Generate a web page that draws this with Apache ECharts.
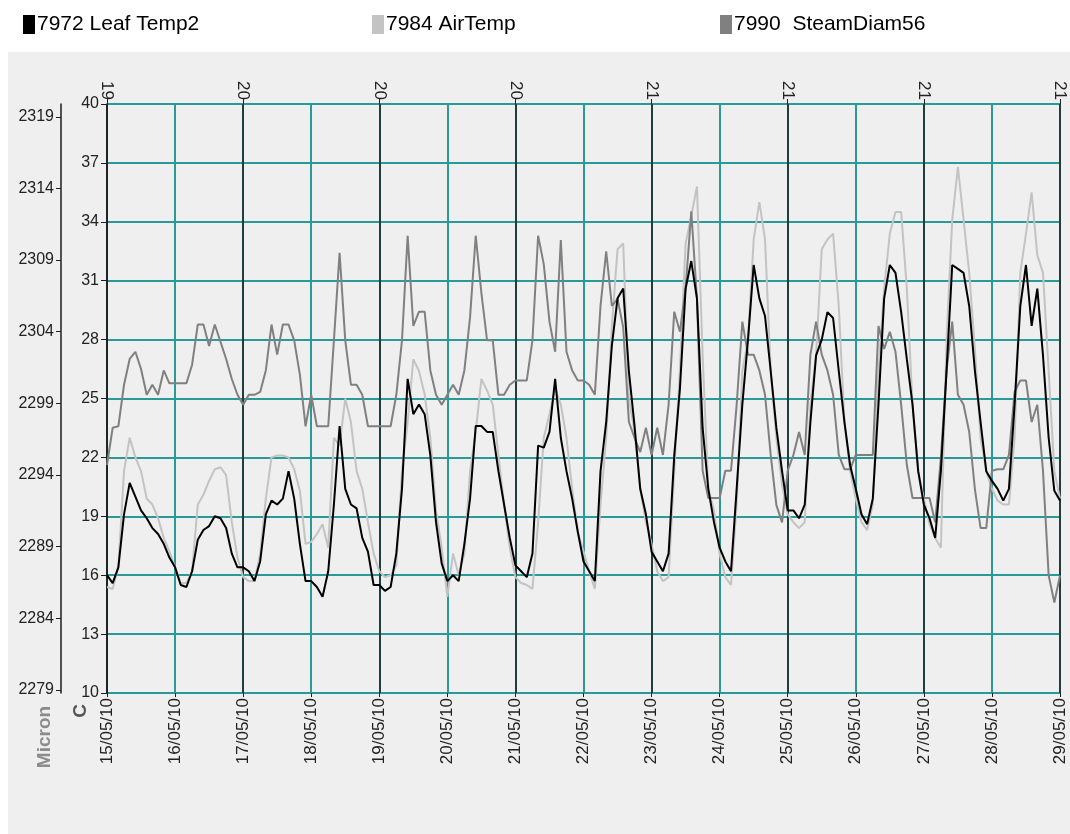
<!DOCTYPE html>
<html><head><meta charset="utf-8">
<script src="https://cdn.jsdelivr.net/npm/echarts@6/dist/echarts.min.js"></script>
<style>html,body{margin:0;padding:0;background:#fff}#c{width:1070px;height:834px}</style>
</head><body><div id="c"></div>
<script>
// ---- data ----
const dateLabels = ['15/05/10','16/05/10','17/05/10','18/05/10','19/05/10','20/05/10','21/05/10','22/05/10','23/05/10','24/05/10','25/05/10','26/05/10','27/05/10','28/05/10','29/05/10'];
const weekLabels = ['19','20','20','20','21','21','21','21'];
const micronTicks = [2279,2284,2289,2294,2299,2304,2309,2314,2319];
const stepHours = 2; // sampling interval of the series below, starting 15/05/10 00:00

const leafTemp = [
16.0,15.6,16.4,19.1,20.7,20.0,19.3,18.9,18.4,18.1,17.6,16.9,
16.4,15.5,15.4,16.2,17.8,18.3,18.5,19.0,18.9,18.4,17.1,16.4,
16.4,16.2,15.7,16.7,19.1,19.8,19.6,19.9,21.3,19.9,17.6,15.7,
15.7,15.4,14.9,16.2,19.6,23.6,20.4,19.6,19.4,17.9,17.2,15.5,
15.5,15.2,15.4,17.1,20.4,26.0,24.2,24.7,24.2,22.1,18.7,16.6,
15.7,16.0,15.7,17.6,19.9,23.6,23.6,23.3,23.3,21.3,19.6,17.9,
16.5,16.2,15.9,17.1,22.6,22.5,23.3,26.0,23.0,21.3,19.9,18.2,
16.7,16.2,15.7,21.3,23.8,27.7,30.1,30.6,26.4,23.6,20.4,19.1,
17.2,16.7,16.2,17.1,22.1,25.5,30.6,32.0,30.1,23.5,20.4,18.7,
17.4,16.7,16.2,20.4,24.7,28.0,31.8,30.1,29.2,26.4,23.5,21.3,
19.3,19.3,18.9,19.6,23.8,27.2,28.0,29.4,29.1,26.4,23.8,21.6,
20.4,19.1,18.6,19.9,24.7,30.1,31.8,31.4,29.4,27.0,24.7,21.3,
19.6,18.9,17.9,21.3,26.4,31.8,31.6,31.4,29.7,26.4,23.8,21.3,
20.8,20.4,19.8,20.4,24.7,29.7,31.8,28.7,30.6,27.2,23.0,20.3,
19.8];

const airTemp = [
15.4,15.3,16.4,21.3,23.0,22.0,21.3,19.9,19.6,18.9,17.9,17.2,
16.4,15.6,15.6,16.2,19.6,20.1,20.8,21.4,21.5,21.1,18.7,16.9,
15.9,15.7,15.7,17.1,19.9,22.0,22.1,22.1,22.0,21.4,20.3,17.6,
17.7,18.1,18.6,17.4,23.0,22.6,25.0,23.8,21.3,20.4,18.7,17.1,
16.2,15.9,16.0,16.5,21.3,23.8,27.0,26.4,25.2,23.0,19.3,17.4,
14.9,17.1,16.0,17.1,21.3,23.3,26.0,25.4,24.7,22.1,19.6,17.4,
15.9,15.6,15.5,15.3,18.7,23.0,24.2,25.5,24.7,23.0,20.4,18.2,
17.2,16.2,15.3,19.6,23.0,28.7,32.6,32.9,25.0,23.3,20.4,18.7,
17.6,16.2,15.7,15.9,21.3,26.5,32.9,34.3,35.8,27.2,20.4,19.3,
17.1,15.9,15.5,19.6,26.4,28.0,33.1,35.0,33.1,26.4,23.0,20.6,
19.1,18.7,18.4,18.7,24.7,27.2,32.6,33.1,33.4,29.7,23.8,21.3,
19.9,18.7,18.3,19.6,26.4,30.6,33.4,34.5,34.5,30.6,24.7,21.3,
19.9,18.6,17.9,17.4,28.0,34.1,36.8,34.1,31.4,27.5,23.0,21.3,
20.4,19.8,19.6,19.6,23.0,31.4,33.4,35.5,32.3,31.4,26.4,21.3,
19.9];

const steamDiam = [
2294.7,2297.3,2297.4,2300.3,2302.1,2302.6,2301.4,2299.6,2300.3,2299.6,2301.3,2300.4,
2300.4,2300.4,2300.4,2301.7,2304.5,2304.5,2303.0,2304.5,2303.3,2302.1,2300.7,2299.6,
2298.9,2299.6,2299.6,2299.8,2301.3,2304.5,2302.4,2304.5,2304.5,2303.4,2301.0,2297.4,
2299.6,2297.4,2297.4,2297.4,2303.4,2309.5,2303.4,2300.3,2300.3,2299.6,2297.4,2297.4,
2297.4,2297.4,2297.4,2299.6,2303.4,2310.7,2304.4,2305.4,2305.4,2301.3,2299.6,2298.9,
2299.6,2300.3,2299.6,2301.3,2305.0,2310.7,2306.7,2303.4,2303.4,2299.6,2299.6,2300.3,
2300.6,2300.6,2300.6,2303.4,2310.7,2308.7,2304.7,2302.6,2310.4,2302.6,2301.3,2300.6,
2300.6,2300.3,2299.6,2305.8,2309.6,2305.8,2306.3,2304.3,2297.7,2296.6,2295.6,2297.3,
2295.4,2297.3,2295.4,2298.9,2305.4,2304.0,2307.0,2312.4,2306.3,2294.3,2292.4,2292.4,
2292.4,2294.3,2294.3,2298.9,2304.7,2302.4,2302.4,2301.3,2299.6,2295.4,2291.9,2290.7,
2294.3,2295.4,2297.0,2295.4,2302.4,2304.7,2302.4,2301.3,2299.6,2295.4,2294.4,2294.4,
2295.4,2295.4,2295.4,2295.4,2304.4,2302.8,2304.0,2302.6,2298.9,2294.7,2292.4,2292.4,
2292.4,2292.4,2290.7,2295.2,2301.3,2304.7,2299.6,2298.9,2297.0,2293.0,2290.3,2290.3,
2294.3,2294.4,2294.4,2295.4,2299.8,2300.6,2300.6,2297.7,2298.9,2294.3,2287.0,2285.1,
2287.0];

const seriesNames = ['7972 Leaf Temp2','7984 AirTemp','7990  SteamDiam56'];
// ---- end data ----

const toPairs = arr => arr.map((v, i) => [i * stepHours / 24, v]);
const TEAL = '#2a9a98';
const DARK = '#1e1e1e';
const FONT = '"Liberation Sans", Arial, sans-serif';

const chart = echarts.init(document.getElementById('c'), null, {renderer: 'canvas'});
const legendBase = {
  top: 14, itemWidth: 12, itemHeight: 19, icon: 'rect', padding: 0, itemGap: 0,
  selectedMode: false,
  textStyle: {fontSize: 21, color: '#000', fontFamily: FONT, padding: [0, 0, 0, -3]}
};
chart.setOption({
  animation: false,
  backgroundColor: '#ffffff',
  graphic: [
    {type: 'rect', z: -100, silent: true, shape: {x: 8, y: 52, width: 1062, height: 782}, style: {fill: '#efefef'}},
    {type: 'text', silent: true, x: 81, y: 711, rotation: Math.PI / 2,
     style: {text: 'C', font: 'bold 19px ' + FONT, fill: '#555', align: 'center', verticalAlign: 'middle'}},
    {type: 'text', silent: true, x: 45, y: 737, rotation: Math.PI / 2,
     style: {text: 'Micron', font: 'bold 19px ' + FONT, fill: '#8c8c8c', align: 'center', verticalAlign: 'middle'}}
  ],
  legend: [
    Object.assign({}, legendBase, {left: 23, data: [seriesNames[0]]}),
    Object.assign({}, legendBase, {left: 372, data: [seriesNames[1]]}),
    Object.assign({}, legendBase, {left: 720, data: [seriesNames[2]]})
  ],
  grid: {left: 107, top: 104, width: 953, height: 589, containLabel: false, outerBoundsMode: 'none'},
  xAxis: [
    {
      type: 'value', position: 'bottom', min: 0, max: 14, interval: 1,
      axisLine: {show: false},
      axisTick: {show: true, length: 4, lineStyle: {color: DARK}},
      axisLabel: {rotate: 90, margin: 5, fontSize: 17, color: '#222', fontFamily: FONT,
        showMinLabel: true, showMaxLabel: true,
        formatter: v => dateLabels[Math.round(v)] || ''},
      splitLine: {show: true, lineStyle: {color: TEAL, width: 2}}
    },
    {
      type: 'value', position: 'top', min: 0, max: 14, interval: 2, z: 1,
      axisLine: {show: false},
      axisTick: {show: true, length: 5, lineStyle: {color: DARK}},
      axisLabel: {rotate: 90, margin: 4, fontSize: 17, color: '#222', fontFamily: FONT,
        showMinLabel: true, showMaxLabel: true,
        formatter: v => weekLabels[Math.round(v / 2)] || ''},
      splitLine: {show: true, lineStyle: {color: DARK, width: 1.5}}
    }
  ],
  yAxis: [
    {
      type: 'value', position: 'left', min: 10, max: 40, interval: 3,
      axisLine: {show: true, onZero: false, lineStyle: {color: DARK, width: 1.5}},
      axisTick: {show: true, length: 6, lineStyle: {color: DARK}},
      axisLabel: {margin: 8, fontSize: 16, color: '#222', fontFamily: FONT},
      splitLine: {show: true, lineStyle: {color: TEAL, width: 2}}
    },
    {
      type: 'value', position: 'left', offset: 46, min: 2278.79, max: 2319.89,
      axisLine: {show: true, onZero: false, lineStyle: {color: DARK, width: 1.5}},
      axisTick: {show: true, length: 5, customValues: micronTicks, lineStyle: {color: DARK}},
      axisLabel: {margin: 7, fontSize: 16, color: '#222', fontFamily: FONT, customValues: micronTicks,
        formatter: v => String(Math.round(v))},
      splitLine: {show: false}
    }
  ],
  series: [
    {name: seriesNames[1], type: 'line', xAxisIndex: 0, yAxisIndex: 0, data: toPairs(airTemp),
     showSymbol: false, symbol: 'none', color: '#c3c3c3', lineStyle: {width: 2, color: '#c3c3c3'}, z: 2},
    {name: seriesNames[2], type: 'line', xAxisIndex: 0, yAxisIndex: 1, data: toPairs(steamDiam),
     showSymbol: false, symbol: 'none', color: '#808080', lineStyle: {width: 2, color: '#808080'}, z: 3},
    {name: seriesNames[0], type: 'line', xAxisIndex: 0, yAxisIndex: 0, data: toPairs(leafTemp),
     showSymbol: false, symbol: 'none', color: '#000000', lineStyle: {width: 2, color: '#000000'}, z: 4}
  ]
});
</script></body></html>
